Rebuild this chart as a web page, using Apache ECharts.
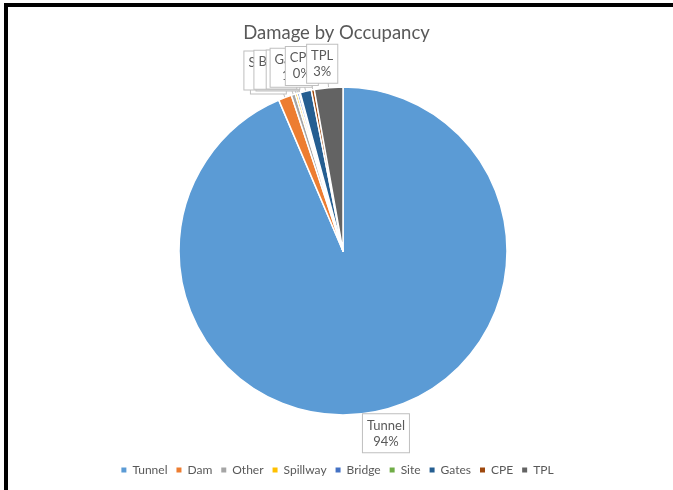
<!DOCTYPE html>
<html>
<head>
<meta charset="utf-8">
<script src="https://cdn.jsdelivr.net/npm/echarts@6/dist/echarts.min.js"></script>
<style>
html,body{margin:0;padding:0;background:#fff;}
#chart{width:673px;height:490px;position:absolute;left:0;top:0;}
#frame{position:absolute;left:4px;top:3px;width:700px;height:500px;border-left:4px solid #000;border-top:4px solid #000;pointer-events:none;}
</style>
</head>
<body>
<div id="chart"></div>
<div id="frame"></div>
<script>
const title = 'Damage by Occupancy';
const categories = ['Tunnel', 'Dam', 'Other', 'Spillway', 'Bridge', 'Site', 'Gates', 'CPE', 'TPL'];
const values = [93.6, 1.3, 0.4, 0.2, 0.2, 0.1, 1.1, 0.3, 2.8];
const colors = ['#5B9BD5', '#ED7D31', '#A5A5A5', '#FFC000', '#4472C4', '#70AD47', '#255E91', '#9E480E', '#636363'];

const chart = echarts.init(document.getElementById('chart'));
const FONT = 'Lato, "Open Sans", sans-serif';

const data = categories.map((c, i) => ({
  name: c,
  value: values[i],
  itemStyle: { color: colors[i] },
  labelLine: { show: i !== 0 }
}));

chart.setOption({
  animation: false,
  color: colors,
  title: {
    text: title,
    left: 'center',
    top: 19,
    textStyle: { fontFamily: FONT, fontSize: 18.5, fontWeight: 'normal', color: '#595959' }
  },
  legend: {
    bottom: 9,
    left: 'center',
    icon: 'rect',
    itemWidth: 7,
    itemHeight: 7,
    itemGap: 7,
    textStyle: { fontFamily: FONT, fontSize: 12, color: '#595959' },
    data: categories
  },
  series: [{
    type: 'pie',
    center: [343, 251],
    radius: 164,
    startAngle: 90,
    clockwise: true,
    avoidLabelOverlap: false,
    data: data,
    itemStyle: { borderColor: '#fff', borderWidth: 1.5 },
    label: {
      show: true,
      position: 'outside',
      formatter: p => p.name + '\n' + Math.round(p.percent) + '%',
      fontFamily: FONT,
      fontSize: 13,
      lineHeight: 16,
      color: '#595959',
      backgroundColor: '#fff',
      borderColor: '#BFBFBF',
      borderWidth: 1,
      padding: [3, 4, 3, 4]
    },
    labelLine: {
      length: 16,
      length2: 0,
      lineStyle: { color: '#BFBFBF', width: 1 }
    },
    labelLayout: function (params) {
      const i = params.dataIndex;
      if (i === 0) return { align: 'center', dx: 2, dy: 6 };
      if (i <= 2) return { align: 'center', dx: -6, dy: -8 };
      return { align: 'center', dx: -(8 - i) * 3, dy: -8 };
    }
  }]
});
</script>
</body>
</html>
